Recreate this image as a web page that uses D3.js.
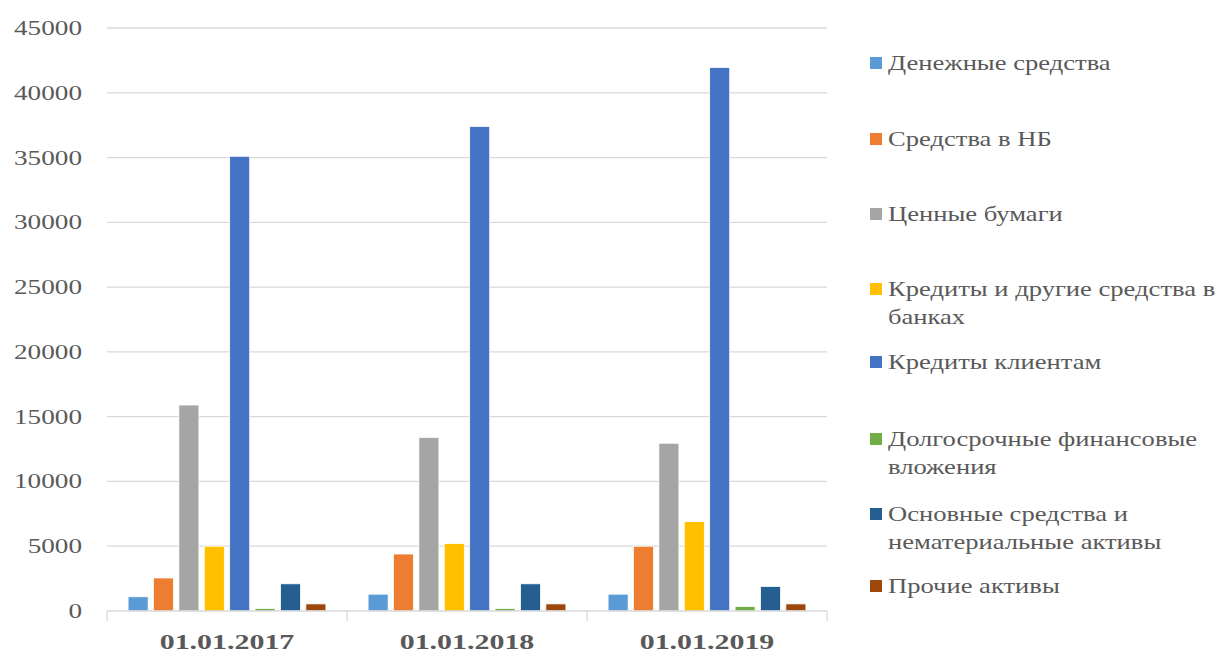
<!DOCTYPE html>
<html>
<head>
<meta charset="utf-8">
<script src="https://cdn.jsdelivr.net/npm/d3@7"></script>
<style>
  body { margin: 0; background: #fff; }
  svg text { font-family: "Liberation Serif", "Times New Roman", serif; fill: #595959; }
</style>
</head>
<body>
<svg id="chart" width="1221" height="657"></svg>
<script>
// dates on the x axis
var dates = ['01.01.2017', '01.01.2018', '01.01.2019'];
// series names (legend order)
var seriesNames = [
    'Денежные средства',
    'Средства в НБ',
    'Ценные бумаги',
    'Кредиты и другие средства в банках',
    'Кредиты клиентам',
    'Долгосрочные финансовые вложения',
    'Основные средства и нематериальные активы',
    'Прочие активы'
];
var seriesColors = ['#5b9bd5', '#ed7d31', '#a5a5a5', '#ffc000', '#4472c4', '#70ad47', '#255e91', '#9e480e'];
// values per series, one per date
var cash = [1100, 1300, 1300];
var nbFunds = [2550, 4400, 5000];
var securities = [15900, 13400, 12950];
var bankLoans = [5000, 5200, 6900];
var clientLoans = [35100, 37400, 41950];
var longTermInv = [200, 200, 350];
var fixedAssets = [2100, 2100, 1900];
var otherAssets = [550, 550, 550];
var yTicks = [0, 5000, 10000, 15000, 20000, 25000, 30000, 35000, 40000, 45000];
// legend text split into lines as in the picture
var legendLines = [
    ['Денежные средства'],
    ['Средства в НБ'],
    ['Ценные бумаги'],
    ['Кредиты и другие средства в', 'банках'],
    ['Кредиты клиентам'],
    ['Долгосрочные финансовые', 'вложения'],
    ['Основные средства и', 'нематериальные активы'],
    ['Прочие активы']
];

var allSeries = [cash, nbFunds, securities, bankLoans, clientLoans, longTermInv, fixedAssets, otherAssets];

var svg = d3.select('#chart');
var plotLeft = 107, plotRight = 827, plotTop = 28, plotBottom = 611;
var stretch = 1.36; // text in the picture is drawn wide
var legendStretch = 1.33;

var yScale = d3.scaleLinear().domain([0, 45000]).range([plotBottom, plotTop]);
var x0 = d3.scaleBand().domain(dates).range([plotLeft, plotRight]).padding(0);
var x1 = d3.scaleBand().domain(d3.range(seriesNames.length))
    .range([0, x0.bandwidth()])
    .paddingInner(0.21)
    .paddingOuter(0.83);

// gridlines
svg.append('g')
    .selectAll('line')
    .data(yTicks.slice(1))
    .enter()
    .append('line')
    .attr('x1', plotLeft)
    .attr('x2', plotRight)
    .attr('y1', function (d) { return yScale(d); })
    .attr('y2', function (d) { return yScale(d); })
    .style('stroke', '#d9d9d9')
    .style('stroke-width', 1.3);

// y labels
svg.append('g')
    .selectAll('text')
    .data(yTicks)
    .enter()
    .append('text')
    .attr('transform', function (d) { return 'translate(82,' + yScale(d) + ') scale(' + stretch + ',1)'; })
    .attr('dy', '0.35em')
    .attr('text-anchor', 'end')
    .style('font-size', '20px')
    .text(function (d) { return d; });

// bars
var groups = svg.append('g')
    .selectAll('g')
    .data(dates)
    .enter()
    .append('g')
    .attr('transform', function (d) { return 'translate(' + x0(d) + ',0)'; });

groups.selectAll('rect')
    .data(function (d, i) {
        return allSeries.map(function (s, k) { return { k: k, v: s[i] }; });
    })
    .enter()
    .append('rect')
    .attr('x', function (d) { return x1(d.k); })
    .attr('width', x1.bandwidth())
    .attr('y', function (d) { return yScale(d.v); })
    .attr('height', function (d) { return plotBottom - yScale(d.v); })
    .style('fill', function (d) { return seriesColors[d.k]; })
    .style('stroke', '#fff')
    .style('stroke-width', 0.8);

// x axis
var xAxis = d3.axisBottom(x0).tickSize(0).tickPadding(22);
var axisG = svg.append('g')
    .attr('transform', 'translate(0,' + plotBottom + ')')
    .call(xAxis);
axisG.select('.domain').remove();
axisG.selectAll('.tick text')
    .attr('transform', 'scale(' + stretch + ',1)')
    .attr('x', 0)
    .style('font-size', '22px')
    .style('font-weight', 'bold')
    .style('font-family', '"Liberation Serif", serif')
    .attr('fill', '#595959');

svg.append('line')
    .attr('x1', plotLeft).attr('x2', plotRight)
    .attr('y1', plotBottom).attr('y2', plotBottom)
    .style('stroke', '#d9d9d9')
    .style('stroke-width', 1.3);
svg.append('g')
    .selectAll('line')
    .data([plotLeft, x0(dates[1]), x0(dates[2]), plotRight])
    .enter()
    .append('line')
    .attr('x1', function (d) { return d; })
    .attr('x2', function (d) { return d; })
    .attr('y1', plotBottom)
    .attr('y2', plotBottom + 10)
    .style('stroke', '#d9d9d9')
    .style('stroke-width', 1.3);

// legend
var legendY = [63, 139, 214, 289, 362, 439, 514, 586];
var legend = svg.append('g')
    .selectAll('g')
    .data(legendLines)
    .enter()
    .append('g')
    .attr('transform', function (d, i) { return 'translate(870,' + legendY[i] + ')'; });

legend.append('rect')
    .attr('x', 0)
    .attr('y', -6)
    .attr('width', 12)
    .attr('height', 12)
    .style('fill', function (d, i) { return seriesColors[i]; });

legend.each(function (lines) {
    var t = d3.select(this).append('text')
        .attr('transform', 'translate(18,0) scale(' + legendStretch + ',1)')
        .style('font-size', '20px');
    lines.forEach(function (ln, j) {
        t.append('tspan')
            .attr('x', 0)
            .attr('dy', j === 0 ? '0.35em' : '28px')
            .text(ln);
    });
});
</script>
</body>
</html>
